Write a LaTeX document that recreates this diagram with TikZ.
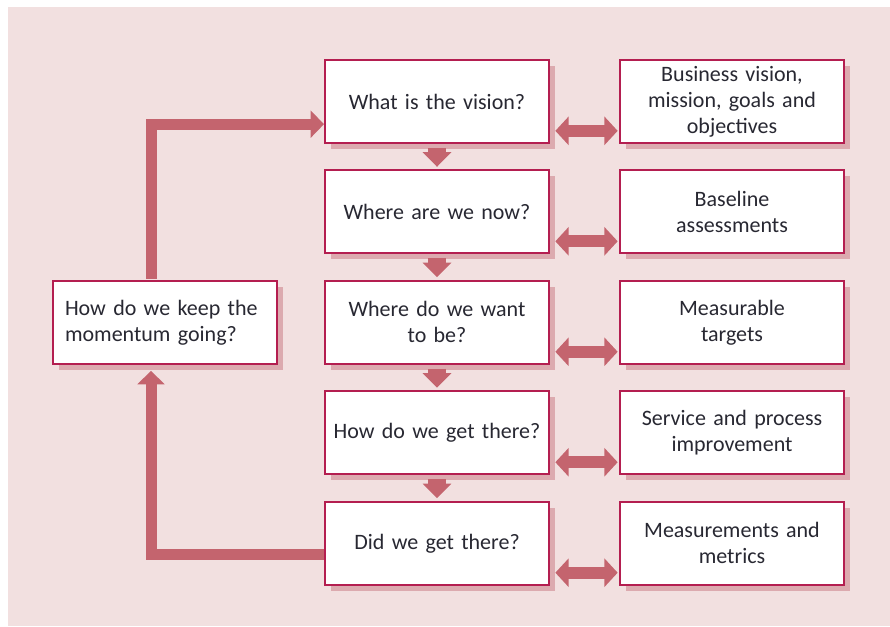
\documentclass[tikz,border=0pt]{standalone}
\usepackage{fontspec}
\setmainfont{Carlito}
\usetikzlibrary{positioning,arrows.meta,shadows}
\definecolor{bgpink}{RGB}{242,224,224}
\definecolor{boxred}{RGB}{180,30,80}
\definecolor{shadowpink}{RGB}{220,170,175}
\definecolor{arrowred}{RGB}{196,100,110}
\definecolor{inktext}{RGB}{40,40,50}
\begin{document}
\begin{tikzpicture}[x=0.75pt, y=-0.75pt,
  every node/.style={align=center, font=\fontsize{16.5}{19.5}\selectfont, text=inktext},
  qbox/.style={draw=boxred, line width=1.5pt, fill=white, minimum width=168pt, minimum height=62.25pt,
    text width=162pt, inner xsep=3pt, inner ysep=1pt,
    drop shadow={shadow xshift=4.5pt, shadow yshift=-4.5pt, fill=shadowpink, opacity=1}},
  flow/.style={draw=arrowred, line width=14pt, -{Triangle[width=21pt,length=11pt]}, shorten <=3pt, shorten >=2pt},
  loopline/.style={draw=arrowred, line width=8.25pt, -{Triangle[width=20pt,length=10pt]}},
  link/.style={draw=arrowred, line width=9pt, {Triangle[width=21pt,length=10pt]}-{Triangle[width=21pt,length=10pt]}, shorten <=4pt, shorten >=1pt}]
\useasboundingbox (0,0) rectangle (890,626);
\fill[bgpink] (8,7) rectangle (890,626);

% the five questions
\node (vision) [qbox] at (437,101.5) {What is the vision?};
\node (now) [qbox, below=19.1pt of vision] {Where are we now?};
\node (want) [qbox, below=19.1pt of now] {Where do we want\\to be?};
\node (route) [qbox, below=19.1pt of want] {How do we get there?};
\node (did) [qbox, below=19.1pt of route] {Did we get there?};

\node (keep) [qbox, align=left, text width=150pt, inner xsep=9pt, left=34.5pt of want] {How do we keep the\\momentum going?};

% answers
\node (goals) [qbox, right=51.75pt of vision] {Business vision,\\mission, goals and\\objectives};
\node (baseline) [qbox, right=51.75pt of now] {Baseline\\assessments};
\node (targets) [qbox, right=51.75pt of want] {Measurable\\targets};
\node (improve) [qbox, right=51.75pt of route] {Service and process\\improvement};
\node (metrics) [qbox, right=51.75pt of did] {Measurements and\\metrics};

\draw[flow] (vision) -- (now);
\draw[flow] (now) -- (want);
\draw[flow] (want) -- (route);
\draw[flow] (route) -- (did);

\draw[link] ([yshift=-22pt]vision.east) -- ([yshift=-22pt]goals.west);
\draw[link] ([yshift=-22pt]now.east) -- ([yshift=-22pt]baseline.west);
\draw[link] ([yshift=-22pt]want.east) -- ([yshift=-22pt]targets.west);
\draw[link] ([yshift=-22pt]route.east) -- ([yshift=-22pt]improve.west);
\draw[link] ([yshift=-22pt]did.east) -- ([yshift=-22pt]metrics.west);

\draw[loopline] ([xshift=-10.5pt,yshift=0.75pt]keep.north) |- ([yshift=-17pt]vision.west);
\draw[loopline] ([yshift=-8pt]did.west) -| ([xshift=-10.5pt,yshift=-4.5pt]keep.south);
\end{tikzpicture}
\end{document}
